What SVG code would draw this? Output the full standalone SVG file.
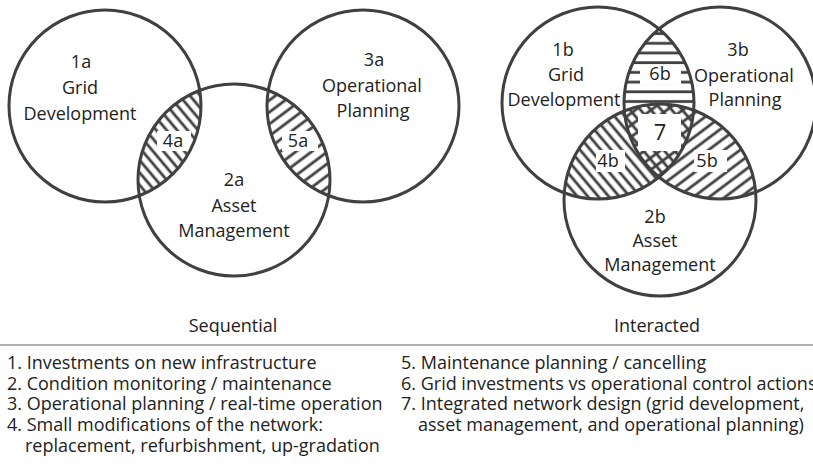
<svg xmlns="http://www.w3.org/2000/svg" width="813" height="472" viewBox="0 0 813 472">
<style>
.c{fill:none;stroke:#404040;stroke-width:3}
.t{font-family:"Open Sans","Liberation Sans",sans-serif;font-size:18px;fill:#222;text-anchor:middle}
.l{font-family:"Open Sans","Liberation Sans",sans-serif;font-size:18px;fill:#222}
.w{fill:#fff}
.h{stroke:#404040;stroke-width:2.8}
</style>
<defs>
<pattern id="pBack" patternUnits="userSpaceOnUse" width="20" height="8" patternTransform="rotate(50)"><line class="h" x1="0" y1="4" x2="20" y2="4"/></pattern>
<pattern id="pFwd" patternUnits="userSpaceOnUse" width="20" height="9.5" patternTransform="rotate(-37)"><line class="h" x1="0" y1="4.7" x2="20" y2="4.7"/></pattern>
<pattern id="pHor" patternUnits="userSpaceOnUse" width="20" height="9.7"><line class="h" x1="0" y1="4.5" x2="20" y2="4.5"/></pattern>
<clipPath id="k1a"><circle cx="105" cy="106" r="96"/></clipPath>
<clipPath id="k2a"><circle cx="234" cy="180" r="96"/></clipPath>
<clipPath id="k3a"><circle cx="363" cy="106" r="96"/></clipPath>
<clipPath id="k1b"><circle cx="598" cy="103" r="96"/></clipPath>
<clipPath id="k2b"><circle cx="660" cy="200" r="96"/></clipPath>
<clipPath id="k3b"><circle cx="720" cy="103" r="96"/></clipPath>
</defs>
<rect width="813" height="472" fill="#fff"/>

<g id="regions">
<g id="r4a" clip-path="url(#k1a)"><g clip-path="url(#k2a)"><rect x="100" y="60" width="150" height="180" fill="url(#pBack)"/></g></g>
<g id="r5a" clip-path="url(#k3a)"><g clip-path="url(#k2a)"><rect x="230" y="60" width="150" height="180" fill="url(#pFwd)"/></g></g>
<g id="r6b" clip-path="url(#k1b)"><g clip-path="url(#k3b)"><rect x="600" y="20" width="120" height="170" fill="url(#pHor)"/><circle cx="660" cy="200" r="96" fill="#fff"/></g></g>
<g id="r4b" clip-path="url(#k1b)"><g clip-path="url(#k2b)"><rect x="540" y="90" width="160" height="120" fill="url(#pBack)"/></g></g>
<g id="r5b" clip-path="url(#k3b)"><g clip-path="url(#k2b)"><rect x="620" y="90" width="160" height="120" fill="url(#pFwd)"/></g></g>
<rect class="w" x="157" y="131" width="34" height="20"/>
<rect class="w" x="282" y="131" width="36" height="20"/>
<rect class="w" x="640" y="66" width="41" height="18"/>
<rect class="w" x="638" y="114" width="43" height="37"/>
<rect class="w" x="596" y="150" width="29" height="22"/>
<rect class="w" x="694" y="150" width="33" height="22"/>
</g>

<g id="n1a"><circle class="c" cx="105" cy="106" r="96"/><text class="t" x="81" y="68">1a</text><text class="t" x="80" y="94">Grid</text><text class="t" x="80" y="120">Development</text></g>
<g id="n2a"><circle class="c" cx="234" cy="180" r="96"/><text class="t" x="234" y="186">2a</text><text class="t" x="234" y="212">Asset</text><text class="t" x="234" y="237">Management</text></g>
<g id="n3a"><circle class="c" cx="363" cy="106" r="96"/><text class="t" x="374" y="66">3a</text><text class="t" x="372" y="92">Operational</text><text class="t" x="373" y="117">Planning</text></g>
<g id="n4a"><text class="t" x="173" y="147">4a</text></g>
<g id="n5a"><text class="t" x="298" y="147">5a</text></g>

<g id="n1b"><circle class="c" cx="598" cy="103" r="96"/><text class="t" x="563" y="56">1b</text><text class="t" x="566" y="81">Grid</text><text class="t" x="564" y="106">Development</text></g>
<g id="n3b"><circle class="c" cx="720" cy="103" r="96"/><text class="t" x="738" y="56">3b</text><text class="t" x="744" y="82">Operational</text><text class="t" x="745" y="106">Planning</text></g>
<g id="n2b"><circle class="c" cx="660" cy="200" r="96"/><text class="t" x="655" y="223">2b</text><text class="t" x="655" y="247">Asset</text><text class="t" x="660" y="271">Management</text></g>
<g id="n6b"><text class="t" x="660" y="80">6b</text></g>
<g id="n7"><text class="t" x="660" y="140" style="font-size:22px">7</text></g>
<g id="n4b"><text class="t" x="608" y="167">4b</text></g>
<g id="n5b"><text class="t" x="707" y="167">5b</text></g>

<g id="captions"><text class="t" x="233" y="332">Sequential</text><text class="t" x="657" y="332">Interacted</text></g>
<line x1="0" y1="345" x2="813" y2="345" stroke="#999" stroke-width="1.5"/>
<g id="legend">
<text class="l" x="7" y="369">1. Investments on new infrastructure</text>
<text class="l" x="7" y="390">2. Condition monitoring / maintenance</text>
<text class="l" x="7" y="410">3. Operational planning / real-time operation</text>
<text class="l" x="7" y="431">4. Small modifications of the network:</text>
<text class="l" x="25" y="452">replacement, refurbishment, up-gradation</text>
<text class="l" x="401" y="369">5. Maintenance planning / cancelling</text>
<text class="l" x="401" y="390">6. Grid investments vs operational control actions</text>
<text class="l" x="401" y="410">7. Integrated network design (grid development,</text>
<text class="l" x="418" y="431">asset management, and operational planning)</text>
</g>
</svg>
